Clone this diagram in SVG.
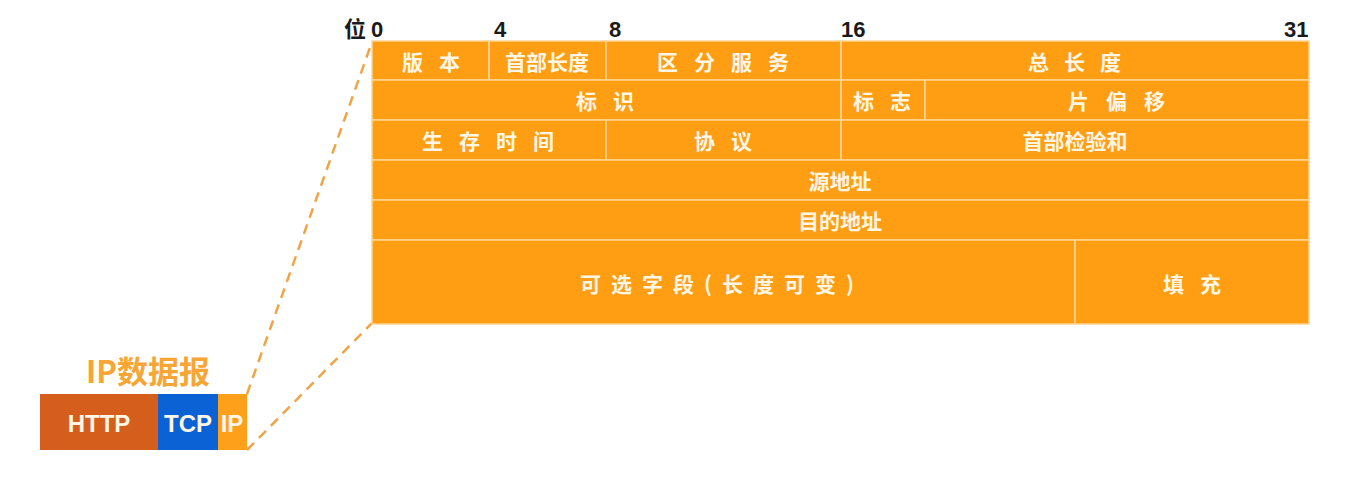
<svg xmlns="http://www.w3.org/2000/svg" width="1357" height="480" viewBox="0 0 1357 480">
<style>
.cell{fill:#FF9E12;stroke:#FFD592;stroke-width:1.5}
.t{font-family:"Noto Sans CJK SC","Liberation Sans",sans-serif;font-weight:bold;font-size:21px;fill:#FFF6E6;text-anchor:middle;dominant-baseline:central}
.s{letter-spacing:16px}
.bit{font-family:"Liberation Sans","Noto Sans CJK SC",sans-serif;font-weight:bold;font-size:22px;fill:#1a1a1a}
.seg{font-family:"Liberation Sans Narrow","Liberation Sans",sans-serif;font-weight:bold;font-size:24px;fill:#FFF6E6;text-anchor:middle;dominant-baseline:central}
</style>
<rect width="1357" height="480" fill="#ffffff"/>
<g id="bits">
<text class="bit" x="344" y="37" font-family="Noto Sans CJK SC,sans-serif">位</text>
<text class="bit" x="371" y="37">0</text>
<text class="bit" x="494" y="37">4</text>
<text class="bit" x="609" y="37">8</text>
<text class="bit" x="841" y="37">16</text>
<text class="bit" x="1284" y="37">31</text>
</g>
<g id="connectors" fill="none" stroke="#F0A445" stroke-width="2.5" stroke-dasharray="10,7">
<line x1="247" y1="394" x2="372" y2="42"/>
<line x1="247" y1="450" x2="372" y2="323"/>
</g>
<g id="row1">
<rect class="cell" x="372" y="41" width="117" height="39"/><text class="t s" x="439" y="61">版本</text>
<rect class="cell" x="489" y="41" width="117" height="39"/><text class="t" x="547" y="61">首部长度</text>
<rect class="cell" x="606" y="41" width="235" height="39"/><text class="t s" x="731" y="61">区分服务</text>
<rect class="cell" x="841" y="41" width="468" height="39"/><text class="t" x="1082" y="61" style="letter-spacing:15px">总长度</text>
</g>
<g id="row2">
<rect class="cell" x="372" y="80" width="469" height="40"/><text class="t s" x="613" y="100">标识</text>
<rect class="cell" x="841" y="80" width="84" height="40"/><text class="t s" x="890" y="100">标志</text>
<rect class="cell" x="925" y="80" width="384" height="40"/><text class="t" x="1125" y="100" style="letter-spacing:17px">片偏移</text>
</g>
<g id="row3">
<rect class="cell" x="372" y="120" width="234" height="40"/><text class="t s" x="496" y="140">生存时间</text>
<rect class="cell" x="606" y="120" width="235" height="40"/><text class="t s" x="731" y="140">协议</text>
<rect class="cell" x="841" y="120" width="468" height="40"/><text class="t" x="1075" y="140">首部检验和</text>
</g>
<g id="row4">
<rect class="cell" x="372" y="160" width="937" height="40"/><text class="t" x="840" y="180">源地址</text>
</g>
<g id="row5">
<rect class="cell" x="372" y="200" width="937" height="40"/><text class="t" x="840" y="220">目的地址</text>
</g>
<g id="row6">
<rect class="cell" x="372" y="240" width="703" height="84"/><text class="t" x="722" y="283" style="letter-spacing:10px">可选字段(长度可变)</text>
<rect class="cell" x="1075" y="240" width="234" height="84"/><text class="t s" x="1200" y="283">填充</text>
</g>
<g id="datagram">
<text x="148" y="383" font-family="Noto Sans CJK SC,sans-serif" font-weight="bold" font-size="31" fill="#F7A534" text-anchor="middle">IP数据报</text>
<rect x="40" y="394" width="118" height="56" fill="#D65E1C"/>
<text class="seg" x="99" y="423">HTTP</text>
<rect x="158" y="394" width="60" height="56" fill="#0B62D4"/>
<text class="seg" x="188" y="423">TCP</text>
<rect x="218" y="394" width="29" height="56" fill="#FFA01A"/>
<text class="seg" x="232" y="423">IP</text>
</g>
</svg>
